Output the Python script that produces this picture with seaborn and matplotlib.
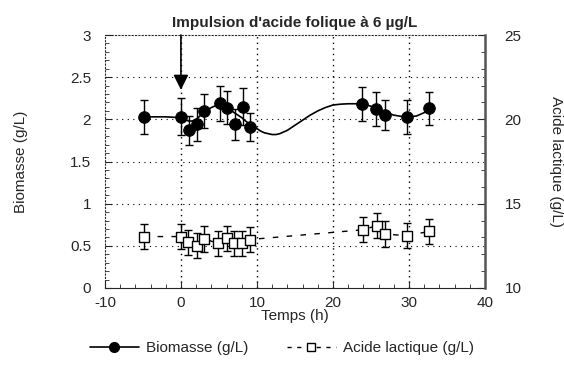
import numpy as np
import pandas as pd
import seaborn as sns
import matplotlib.pyplot as plt
from matplotlib.lines import Line2D
from matplotlib.ticker import MultipleLocator, FormatStrFormatter

# biomasse (points mesurés)
bio_t = [-4.9, 0.0, 1.0, 2.1, 3.1, 5.1, 6.1, 7.1, 8.1, 9.1, 23.8, 25.6, 26.8, 29.7, 32.6]
bio_y = [2.03, 2.03, 1.87, 1.94, 2.10, 2.19, 2.14, 1.94, 2.15, 1.91, 2.18, 2.12, 2.05, 2.03, 2.13]
bio_err = [0.20, 0.22, 0.17, 0.20, 0.20, 0.21, 0.20, 0.18, 0.22, 0.17, 0.20, 0.20, 0.18, 0.20, 0.20]

# courbe lissée de la biomasse
fit_t = [-5, -2, 0, 0.5, 1, 1.5, 2, 2.5, 3, 3.5, 4, 4.5, 5, 5.5, 6, 6.5, 7, 7.5, 8, 8.5,
         9, 9.5, 10, 10.5, 11, 11.5, 12, 12.5, 13, 14, 15, 16, 17, 18, 19, 20, 21, 22,
         23, 24, 24.5, 25, 25.5, 26, 26.5, 27, 27.5, 28, 29, 30, 31, 32, 33]
fit_y = [2.03, 2.03, 2.02, 2.0, 1.98, 1.98, 2.0, 2.04, 2.08, 2.11, 2.14, 2.16, 2.17, 2.16,
         2.14, 2.11, 2.08, 2.05, 2.02, 1.98, 1.95, 1.92, 1.89, 1.86, 1.84, 1.83, 1.82,
         1.82, 1.83, 1.87, 1.93, 1.99, 2.05, 2.10, 2.14, 2.17, 2.18, 2.185, 2.185, 2.18,
         2.17, 2.155, 2.14, 2.12, 2.10, 2.08, 2.065, 2.05, 2.035, 2.03, 2.04, 2.08, 2.12]

# acide lactique (axe gauche équivalent, 1 unité = 5 g/L + 10)
lac_t = [-4.9, 0.0, 0.95, 2.1, 3.1, 4.9, 6.0, 7.0, 8.0, 9.1, 23.9, 25.8, 26.8, 29.7, 32.6]
lac_y = [0.61, 0.61, 0.54, 0.50, 0.58, 0.53, 0.59, 0.53, 0.53, 0.575, 0.69, 0.74, 0.64, 0.62, 0.67]
lac_err = [0.15] * len(lac_t)

pulse_t = 0.0

bio = pd.DataFrame({'t': bio_t, 'y': bio_y, 'err': bio_err})
fit = pd.DataFrame({'t': fit_t, 'y': fit_y})
lac = pd.DataFrame({'t': lac_t, 'y': lac_y, 'err': lac_err})

sns.set_style('ticks')
plt.rcParams['font.family'] = ['Liberation Sans', 'DejaVu Sans']
plt.rcParams['axes.unicode_minus'] = False

fig = plt.figure(figsize=(5.64, 3.65), dpi=100)
ax = fig.add_axes([0.186, 0.211, 0.674, 0.693])

# grille pointillée
for v in [0, 10, 20, 30]:
    ax.axvline(v, color='black', ls=(0, (1, 3)), lw=1, zorder=0)
for h in [0.5, 1, 1.5, 2, 2.5]:
    ax.axhline(h, color='black', ls=(0, (1, 4)), lw=0.8, zorder=0)

sns.lineplot(data=fit, x='t', y='y', color='black', lw=1.2, ax=ax, sort=False)
ax.errorbar(bio.t, bio.y, yerr=bio.err, fmt='none', ecolor='black', elinewidth=1,
            capsize=3, capthick=1)
sns.scatterplot(data=bio, x='t', y='y', color='black', s=70, edgecolor='black',
                ax=ax, zorder=5)

sns.lineplot(data=lac, x='t', y='y', color='black', lw=1, ls=(0, (4, 6)), ax=ax,
             sort=False)
ax.errorbar(lac.t, lac.y, yerr=lac.err, fmt='none', ecolor='black', elinewidth=1,
            capsize=3, capthick=1)
ax.scatter(lac.t, lac.y, marker='s', s=50, facecolor='white', edgecolor='black',
           linewidth=1, zorder=5)

# flèche de l'impulsion
ax.annotate('', xy=(pulse_t, 2.35), xytext=(pulse_t, 3.0),
            arrowprops=dict(arrowstyle='-|>,head_length=0.9,head_width=0.45',
                            color='black', lw=1.2, shrinkA=0, shrinkB=0))

ax.set_xlim(-10, 40)
ax.set_ylim(0, 3)
ax.xaxis.set_major_locator(MultipleLocator(10))
ax.xaxis.set_minor_locator(MultipleLocator(2))
ax.yaxis.set_major_locator(MultipleLocator(0.5))
ax.yaxis.set_minor_locator(MultipleLocator(0.1))
ax.yaxis.set_major_formatter(FormatStrFormatter('%g'))
ax.tick_params(which='both', direction='in', labelsize=11, top=False)
ax.tick_params(which='major', length=5)
ax.tick_params(which='minor', length=3)
ax.tick_params(axis='y', pad=10)
ax.tick_params(axis='x', pad=6)
ax.set_xlabel('Temps (h)', fontsize=11, labelpad=-1)
ax.set_ylabel('Biomasse (g/L)', fontsize=11, labelpad=30)
ax.set_title("Impulsion d'acide folique à 6 µg/L", fontsize=11, fontweight='bold', pad=6)

ax.spines['top'].set_linestyle((0, (1, 2)))
ax.spines['left'].set_linestyle((0, (1, 2)))
ax.spines['right'].set_visible(False)

ax2 = ax.twinx()
ax2.set_ylim(10, 25)
ax2.yaxis.set_major_locator(MultipleLocator(5))
ax2.yaxis.set_minor_locator(MultipleLocator(1))
ax2.tick_params(which='both', direction='in', labelsize=11, pad=14)
ax2.tick_params(which='major', length=5)
ax2.tick_params(which='minor', length=3)
ax2.spines['right'].set_color('#555555')
ax2.spines['right'].set_linewidth(1.8)
for s in ['top', 'left', 'bottom']:
    ax2.spines[s].set_visible(False)
ax2.set_ylabel('Acide lactique (g/L)', fontsize=11, rotation=270, labelpad=30)

handles = [
    Line2D([], [], color='black', lw=1.2, marker='o', ms=7),
    Line2D([], [], color='black', lw=1, ls=(0, (3, 4)), marker='s', ms=6,
           markerfacecolor='white'),
]
fig.legend(handles, ['Biomasse (g/L)', 'Acide lactique (g/L)'], loc='lower center',
           bbox_to_anchor=(0.5, -0.01), ncol=2, frameon=False, fontsize=11,
           handlelength=3.2, columnspacing=2.5, handletextpad=0.5)

fig.savefig('out.png', dpi=100)
